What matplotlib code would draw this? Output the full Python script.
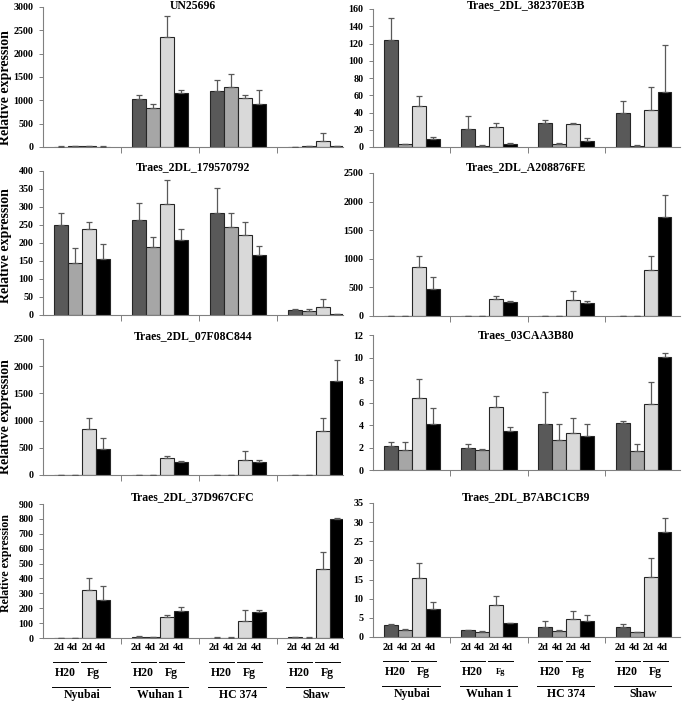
import numpy as np
import matplotlib
matplotlib.use("Agg")
import matplotlib.pyplot as plt
import matplotlib.transforms as mtransforms

plt.rcParams['font.family'] = ['Liberation Serif', 'DejaVu Serif']
plt.rcParams['font.weight'] = 'bold'

cultivars = ["Nyubai", "Wuhan 1", "HC 374", "Shaw"]
treatments = ["H20", "Fg"]
days = ["2d", "4d"]
bar_colors = ["#595959", "#a6a6a6", "#d9d9d9", "#000000"]

# bar heights per cultivar: [H20 2d, H20 4d, Fg 2d, Fg 4d]; tops = mean + error
un25696_mean = [[10, 20, 25, 10], [1030, 830, 2350, 1150], [1190, 1280, 1050, 930], [5, 20, 120, 20]]
un25696_top = [[15, 25, 30, 12], [1120, 920, 2800, 1230], [1440, 1560, 1110, 1230], [8, 25, 290, 25]]

e3b_mean = [[124, 3, 47, 9], [21, 1.5, 23, 4], [28, 4, 27, 7], [40, 1.5, 43, 64]]
e3b_top = [[149, 3.6, 59, 11.5], [36, 1.8, 27.5, 5], [31, 4.6, 27.5, 10], [53, 1.8, 70, 118]]

p792_mean = [[250, 145, 238, 155], [265, 190, 308, 209], [283, 244, 222, 167], [15, 12, 21, 3]]
p792_top = [[282, 186, 258, 198], [310, 218, 375, 240], [353, 283, 258, 192], [16, 16, 45, 4]]

a208_mean = [[5, 5, 850, 470], [2, 2, 305, 240], [2, 2, 275, 235], [3, 3, 800, 1730]]
a208_top = [[6, 6, 1050, 680], [3, 3, 355, 265], [3, 3, 445, 270], [4, 4, 1050, 2110]]

f08_mean = [[5, 5, 850, 470], [2, 2, 305, 240], [2, 2, 275, 235], [3, 3, 800, 1730]]
f08_top = [[6, 6, 1050, 680], [3, 3, 355, 265], [3, 3, 445, 270], [4, 4, 1050, 2110]]

caa_mean = [[2.15, 1.8, 6.4, 4.1], [1.95, 1.8, 5.6, 3.5], [4.05, 2.7, 3.3, 3.05], [4.15, 1.65, 5.9, 10.05]]
caa_top = [[2.45, 2.45, 8.1, 5.5], [2.35, 1.85, 6.6, 3.8], [6.9, 4.05, 4.6, 4.1], [4.35, 2.3, 7.8, 10.4]]

d967_mean = [[1, 1, 322, 255], [8, 8, 140, 178], [3, 3, 115, 172], [5, 3, 462, 800]]
d967_top = [[2, 2, 402, 350], [12, 10, 152, 205], [4, 4, 185, 185], [8, 4, 580, 805]]

b7a_mean = [[3.2, 1.7, 15.5, 7.3], [1.7, 1.4, 8.4, 3.6], [2.6, 1.6, 4.7, 4.1], [2.7, 1.2, 15.6, 27.3]]
b7a_top = [[3.4, 2.1, 19.2, 9.2], [1.85, 1.45, 10.7, 3.7], [4.2, 1.7, 6.8, 5.8], [3.5, 1.3, 20.6, 31.0]]

panels = [
    ("UN25696", un25696_mean, un25696_top, 3000, 500),
    ("Traes_2DL_382370E3B", e3b_mean, e3b_top, 160, 20),
    ("Traes_2DL_179570792", p792_mean, p792_top, 400, 50),
    ("Traes_2DL_A208876FE", a208_mean, a208_top, 2500, 500),
    ("Traes_2DL_07F08C844", f08_mean, f08_top, 2500, 500),
    ("Traes_03CAA3B80", caa_mean, caa_top, 12, 2),
    ("Traes_2DL_37D967CFC", d967_mean, d967_top, 900, 100),
    ("Traes_2DL_B7ABC1CB9", b7a_mean, b7a_top, 35, 5),
]

W, H = 685, 701
fig = plt.figure(figsize=(W / 100, H / 100), dpi=100)

# pixel boxes (x0, x1, ytop, ybottom)
boxes = [
    (43, 343, 7, 147), (373, 680, 9, 147),
    (43, 343, 171, 315), (373, 680, 173, 316),
    (43, 343, 339, 475), (373, 680, 335, 470),
    (43, 343, 504, 638), (373, 680, 503, 637),
]
title_y = [6, 5, 167, 167, 336, 335, 497, 497]
ylabel_y = [88, None, 246, None, 417, None, 563, None]
ylabel_fs = [10, None, 10, None, 10, None, 8.6, None]
xright = [3.35, 3.47] * 4

bw = 0.18
offsets = np.array([-1.5, -0.5, 0.5, 1.5]) * bw


def bottom_labels(ax, hpx, small_fg=False):
    trans = mtransforms.blended_transform_factory(ax.transData, ax.transAxes)

    def fy(p):
        return -p / hpx
    for g, cv in enumerate(cultivars):
        for k in range(4):
            ax.text(g + offsets[k] - 0.03, fy(10), days[k % 2], transform=trans,
                    ha='center', va='center', fontsize=7.5, fontweight='bold')
        for t in range(2):
            c = g + (offsets[2 * t] + offsets[2 * t + 1]) / 2 - 0.03
            ax.plot([c - 0.16, c + 0.16], [fy(23.5), fy(23.5)], color='black', lw=0.7,
                    transform=trans, clip_on=False)
            fs = 6 if (small_fg and g == 1 and t == 1) else 8.5
            ax.text(c, fy(35), treatments[t], transform=trans, ha='center', va='center',
                    fontsize=fs, fontweight='bold')
        ax.plot([g - 0.38, g + 0.36], [fy(48.5), fy(48.5)], color='black', lw=0.7,
                transform=trans, clip_on=False)
        ax.text(g, fy(57), cv, transform=trans, ha='center', va='center',
                fontsize=8.5, fontweight='bold')


for i, (title, mean, top, ymax, step) in enumerate(panels):
    x0, x1, yt, yb = boxes[i]
    ax = fig.add_axes([x0 / W, 1 - yb / H, (x1 - x0) / W, (yb - yt) / H])
    mean = np.array(mean, dtype=float)
    err = np.array(top, dtype=float) - mean
    for k in range(4):
        xs = np.arange(4) + offsets[k]
        ax.bar(xs, mean[:, k], width=bw, color=bar_colors[k], edgecolor='#262626',
               linewidth=0.8, zorder=2)
        ax.errorbar(xs, mean[:, k], yerr=[np.zeros(4), err[:, k]], fmt='none',
                    ecolor='#595959', elinewidth=0.9, capsize=2, capthick=0.9, zorder=3)
    ax.set_xlim(-0.5, xright[i])
    ax.set_ylim(0, ymax)
    ax.set_yticks(np.arange(0, ymax + step / 2, step))
    ax.set_xticks([0.5, 1.5, 2.5])
    ax.set_xticklabels([])
    ax.tick_params(axis='x', length=4, width=0.7, color='#808080', direction='out')
    ax.tick_params(axis='y', length=3, width=0.7, color='#808080', labelsize=7.2, pad=4)
    for lab in ax.get_yticklabels():
        lab.set_fontweight('bold')
    for s in ['top', 'right']:
        ax.spines[s].set_visible(False)
    for s in ['left', 'bottom']:
        ax.spines[s].set_color('#808080')
        ax.spines[s].set_linewidth(0.8)
    hpx = yb - yt
    fig.text((x0 + x1) / 2 / W, 1 - title_y[i] / H, title, ha='center', va='center',
             fontsize=8.5, fontweight='bold')
    if ylabel_y[i] is not None:
        fig.text(6 / W, 1 - ylabel_y[i] / H, "Relative expression", rotation=90,
                 ha='center', va='center', fontsize=ylabel_fs[i], fontweight='bold')
    if i >= 6:
        bottom_labels(ax, hpx, small_fg=(i == 7))

fig.savefig("out.png", dpi=100)
